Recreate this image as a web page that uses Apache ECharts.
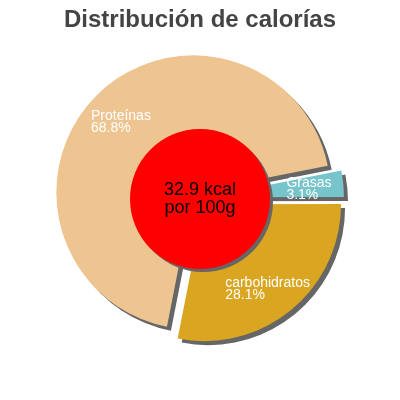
<!DOCTYPE html>
<html><head><meta charset="utf-8">
<script src="https://cdn.jsdelivr.net/npm/echarts@6/dist/echarts.min.js"></script>
<style>html,body{margin:0;padding:0;background:#fff}#c{width:400px;height:400px}</style>
</head><body><div id="c"></div>
<script>
const categories = ['Grasas', 'carbohidratos', 'Proteínas'];
const values = [3.1, 28.1, 68.8];
const colors = ['#77C4CB', '#DAA520', '#EEC591'];
const labelShift = [[-35, 3], [-52, -4], [-21, 11]];
const centerText = ['32.9 kcal', 'por 100g'];
const titleText = 'Distribución de calorías';

const chart = echarts.init(document.getElementById('c'));
const center = [199, 198];
const startAngle = 11.2;
const mk = (showColor) => categories.map((n, i) => ({
  name: n, value: values[i], selected: true,
  itemStyle: showColor ? { color: colors[i] } : { color: 'rgba(0,0,0,0)' }
}));
chart.setOption({
  animation: false,
  title: { text: titleText, left: 'center', top: 3,
    textStyle: { fontFamily: 'Liberation Sans', fontSize: 24, fontWeight: 'bold', color: '#444' } },
  series: [
    { type: 'pie', center, radius: [0, 137], startAngle, clockwise: true,
      selectedMode: 'multiple', selectedOffset: 8, silent: true,
      label: { show: false }, labelLine: { show: false },
      itemStyle: { shadowColor: '#666', shadowOffsetX: 4, shadowOffsetY: 4, shadowBlur: 0 },
      emphasis: { disabled: true },
      data: mk(true) },
    { type: 'pie', center, radius: [87, 137], startAngle, clockwise: true,
      selectedMode: 'multiple', selectedOffset: 8, silent: true,
      label: { show: true, position: 'inside', formatter: p => p.name + '\n' + values[p.dataIndex].toFixed(1) + '%',
        color: '#fff', fontFamily: 'Liberation Sans', fontSize: 14, lineHeight: 12 },
      labelLayout: p => ({ dx: labelShift[p.dataIndex][0], dy: labelShift[p.dataIndex][1], align: 'left' }),
      labelLine: { show: false }, emphasis: { disabled: true },
      data: mk(false), z: 3 },
    { type: 'pie', center: [200, 199], radius: [0, 70], silent: true,
      itemStyle: { color: '#FF0000', shadowColor: '#666', shadowOffsetX: 3, shadowOffsetY: 3, shadowBlur: 0 },
      label: { show: true, position: 'center', formatter: centerText.join('\n'),
        color: '#000', fontFamily: 'Liberation Sans', fontSize: 18, lineHeight: 18 },
      labelLine: { show: false }, emphasis: { disabled: true },
      data: [{ value: 1, name: 'kcal' }], z: 4 }
  ]
});
</script></body></html>
